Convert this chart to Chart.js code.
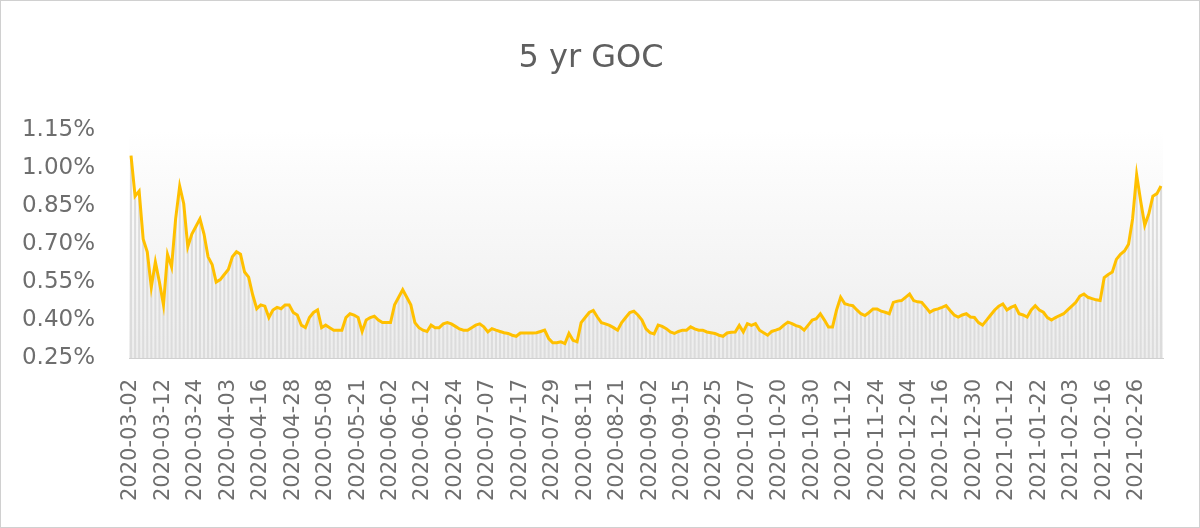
<!DOCTYPE html>
<html>
<head>
<meta charset="utf-8">
<script src="https://cdn.jsdelivr.net/npm/chart.js@4"></script>
<style>
html,body{margin:0;padding:0;background:#fff;}
#wrap{width:1200px;height:528px;position:relative;}
</style>
</head>
<body>
<div id="wrap"><canvas id="c" width="1200" height="528"></canvas></div>
<script>
const title = "5 yr GOC";

const dates = [
"2020-03-02","2020-03-03","2020-03-04","2020-03-05","2020-03-06","2020-03-09","2020-03-10","2020-03-11","2020-03-12","2020-03-13",
"2020-03-16","2020-03-17","2020-03-18","2020-03-19","2020-03-20","2020-03-23","2020-03-24","2020-03-25","2020-03-26","2020-03-27",
"2020-03-30","2020-03-31",
"2020-04-01","2020-04-02","2020-04-03","2020-04-06","2020-04-07","2020-04-08","2020-04-09","2020-04-13","2020-04-14","2020-04-15",
"2020-04-16","2020-04-17","2020-04-20","2020-04-21","2020-04-22","2020-04-23","2020-04-24","2020-04-27","2020-04-28","2020-04-29","2020-04-30",
"2020-05-01","2020-05-04","2020-05-05","2020-05-06","2020-05-07","2020-05-08","2020-05-11","2020-05-12","2020-05-13","2020-05-14",
"2020-05-15","2020-05-19","2020-05-20","2020-05-21","2020-05-22","2020-05-25","2020-05-26","2020-05-27","2020-05-28","2020-05-29",
"2020-06-01","2020-06-02","2020-06-03","2020-06-04","2020-06-05","2020-06-08","2020-06-09","2020-06-10","2020-06-11","2020-06-12",
"2020-06-15","2020-06-16","2020-06-17","2020-06-18","2020-06-19","2020-06-22","2020-06-23","2020-06-24","2020-06-25","2020-06-26",
"2020-06-29","2020-06-30",
"2020-07-02","2020-07-03","2020-07-06","2020-07-07","2020-07-08","2020-07-09","2020-07-10","2020-07-13","2020-07-14","2020-07-15",
"2020-07-16","2020-07-17","2020-07-20","2020-07-21","2020-07-22","2020-07-23","2020-07-24","2020-07-27","2020-07-28","2020-07-29",
"2020-07-30","2020-07-31",
"2020-08-04","2020-08-05","2020-08-06","2020-08-07","2020-08-10","2020-08-11","2020-08-12","2020-08-13","2020-08-14","2020-08-17",
"2020-08-18","2020-08-19","2020-08-20","2020-08-21","2020-08-24","2020-08-25","2020-08-26","2020-08-27","2020-08-28","2020-08-31",
"2020-09-01","2020-09-02","2020-09-03","2020-09-04","2020-09-08","2020-09-09","2020-09-10","2020-09-11","2020-09-14","2020-09-15",
"2020-09-16","2020-09-17","2020-09-18","2020-09-21","2020-09-22","2020-09-23","2020-09-24","2020-09-25","2020-09-28","2020-09-29","2020-09-30",
"2020-10-01","2020-10-02","2020-10-05","2020-10-06","2020-10-07","2020-10-08","2020-10-09","2020-10-13","2020-10-14","2020-10-15",
"2020-10-16","2020-10-19","2020-10-20","2020-10-21","2020-10-22","2020-10-23","2020-10-26","2020-10-27","2020-10-28","2020-10-29","2020-10-30",
"2020-11-02","2020-11-03","2020-11-04","2020-11-05","2020-11-06","2020-11-09","2020-11-10","2020-11-12","2020-11-13","2020-11-16",
"2020-11-17","2020-11-18","2020-11-19","2020-11-20","2020-11-23","2020-11-24","2020-11-25","2020-11-26","2020-11-27","2020-11-30",
"2020-12-01","2020-12-02","2020-12-03","2020-12-04","2020-12-07","2020-12-08","2020-12-09","2020-12-10","2020-12-11","2020-12-14",
"2020-12-15","2020-12-16","2020-12-17","2020-12-18","2020-12-21","2020-12-22","2020-12-23","2020-12-24","2020-12-29","2020-12-30","2020-12-31",
"2021-01-04","2021-01-05","2021-01-06","2021-01-07","2021-01-08","2021-01-11","2021-01-12","2021-01-13","2021-01-14","2021-01-15",
"2021-01-18","2021-01-19","2021-01-20","2021-01-21","2021-01-22","2021-01-25","2021-01-26","2021-01-27","2021-01-28","2021-01-29",
"2021-02-01","2021-02-02","2021-02-03","2021-02-04","2021-02-05","2021-02-08","2021-02-09","2021-02-10","2021-02-11","2021-02-12",
"2021-02-16","2021-02-17","2021-02-18","2021-02-19","2021-02-22","2021-02-23","2021-02-24","2021-02-25","2021-02-26",
"2021-03-01","2021-03-02","2021-03-03","2021-03-04","2021-03-05","2021-03-08"
];

const yield5y = [
1.05,0.89,0.91,0.72,0.67,0.53,0.63,0.55,0.46,0.66,
0.61,0.80,0.93,0.86,0.69,0.74,0.77,0.80,0.74,0.65,
0.62,0.55,0.56,0.58,0.60,0.65,0.67,0.66,0.59,0.57,
0.50,0.445,0.46,0.455,0.41,0.44,0.45,0.445,0.46,0.46,
0.43,0.42,0.38,0.37,0.41,0.43,0.44,0.37,0.38,0.37,
0.36,0.36,0.36,0.41,0.425,0.42,0.41,0.355,0.40,0.41,
0.415,0.40,0.39,0.39,0.39,0.46,0.49,0.52,0.49,0.46,
0.39,0.37,0.36,0.355,0.38,0.37,0.37,0.385,0.39,0.385,
0.375,0.365,0.36,0.36,0.37,0.38,0.385,0.373,0.353,0.366,
0.36,0.355,0.35,0.347,0.34,0.336,0.349,0.349,0.349,0.349,
0.35,0.355,0.36,0.327,0.31,0.31,0.314,0.307,0.347,0.32,
0.314,0.39,0.41,0.43,0.438,0.412,0.39,0.385,0.379,0.37,
0.36,0.39,0.41,0.43,0.435,0.42,0.40,0.365,0.35,0.345,
0.38,0.375,0.366,0.353,0.347,0.355,0.36,0.36,0.373,0.365,
0.36,0.36,0.353,0.35,0.347,0.34,0.336,0.349,0.352,0.353,
0.379,0.353,0.386,0.379,0.386,0.36,0.35,0.34,0.355,0.36,
0.366,0.38,0.392,0.386,0.378,0.373,0.36,0.38,0.40,0.405,
0.425,0.40,0.373,0.373,0.44,0.49,0.465,0.46,0.457,0.44,
0.425,0.418,0.43,0.444,0.444,0.435,0.431,0.425,0.47,0.475,
0.477,0.49,0.503,0.477,0.472,0.47,0.451,0.431,0.44,0.444,
0.45,0.457,0.438,0.42,0.412,0.42,0.425,0.412,0.41,0.39,
0.38,0.40,0.42,0.44,0.455,0.464,0.44,0.45,0.457,0.425,
0.42,0.412,0.44,0.457,0.44,0.431,0.41,0.40,0.41,0.418,
0.425,0.44,0.455,0.47,0.495,0.503,0.49,0.485,0.48,0.477,
0.568,0.58,0.59,0.64,0.66,0.673,0.70,0.80,0.975,0.87,
0.775,0.82,0.89,0.90,0.93
];

const yTicks = [0.25,0.40,0.55,0.70,0.85,1.00,1.15];
const labelEvery = 8;

const FONT = "'DejaVu Sans', sans-serif";
const TEXT = '#6e6e6e';

const bgPlugin = {
  id: 'bg',
  beforeDraw(chart) {
    const {ctx, chartArea: a} = chart;
    ctx.save();
    ctx.fillStyle = '#ffffff';
    ctx.fillRect(0, 0, chart.width, chart.height);
    const g = ctx.createLinearGradient(0, a.top, 0, a.bottom);
    g.addColorStop(0, '#ffffff');
    g.addColorStop(1, '#ededed');
    ctx.fillStyle = g;
    ctx.fillRect(a.left, a.top, a.right - a.left, a.bottom - a.top);
    ctx.restore();
  },
  afterDraw(chart) {
    const {ctx} = chart;
    ctx.save();
    ctx.strokeStyle = '#d0d0d0';
    ctx.lineWidth = 1;
    ctx.strokeRect(0.5, 0.5, chart.width - 1, chart.height - 1);
    ctx.restore();
  }
};

new Chart(document.getElementById('c'), {
  data: {
    labels: dates,
    datasets: [
      {
        type: 'line',
        label: title,
        data: yield5y,
        borderColor: '#FFC000',
        borderWidth: 3,
        pointRadius: 0,
        tension: 0,
        order: 0
      },
      {
        type: 'bar',
        label: 'bars',
        data: yield5y,
        backgroundColor: '#dcdcdc',
        barPercentage: 0.5,
        categoryPercentage: 1.0,
        order: 1
      }
    ]
  },
  options: {
    responsive: false,
    animation: false,
    layout: { padding: { left: 19, right: 37, top: 0, bottom: 16 } },
    plugins: {
      legend: { display: false },
      tooltip: { enabled: false },
      title: {
        display: true,
        text: title,
        color: '#5f5f5f',
        font: { family: FONT, size: 32, weight: 'normal' },
        padding: { top: 39, bottom: 53 }
      }
    },
    scales: {
      x: {
        offset: true,
        grid: { display: false, drawTicks: false },
        border: { display: true, color: '#d0d0d0', width: 1 },
        afterFit: (s) => { s.height = 154; },
        ticks: {
          autoSkip: false,
          minRotation: 90,
          maxRotation: 90,
          padding: 21,
          color: TEXT,
          font: { family: FONT, size: 21 },
          callback: function(v, i) { return i % labelEvery === 0 ? this.getLabelForValue(v) : null; }
        }
      },
      y: {
        min: yTicks[0],
        max: yTicks[yTicks.length - 1],
        afterBuildTicks: (s) => { s.ticks = yTicks.map(v => ({ value: v })); },
        afterFit: (s) => { s.width = 110; },
        grid: { display: false, drawTicks: false },
        border: { display: false },
        ticks: {
          padding: 34,
          color: TEXT,
          font: { family: FONT, size: 23 },
          callback: (v) => Number(v).toFixed(2) + '%'
        }
      }
    }
  },
  plugins: [bgPlugin]
});
</script>
</body>
</html>
